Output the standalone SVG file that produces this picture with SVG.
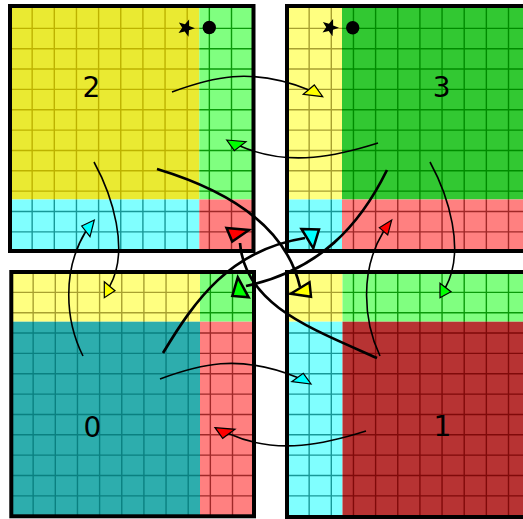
<svg xmlns="http://www.w3.org/2000/svg" width="523" height="519" viewBox="0 0 523 519">
<style>
.border{fill:none;stroke:#000;stroke-width:4}
.lbl{font-family:"DejaVu Sans","Liberation Sans",sans-serif;font-size:28px;text-anchor:middle;fill:#000}
.thin{fill:none;stroke:#000;stroke-width:1.6}
.thick{fill:none;stroke:#000;stroke-width:2.7}
.ah{stroke:#000;stroke-width:1.2}
.ahb{stroke:#000;stroke-width:2.5}
.g{fill:none;stroke-width:1.4}
.fy{fill:#ffff00}.fg{fill:#00ff00}.fc{fill:#00ffff}.fr{fill:#ff0000}
</style>
<defs>
<path id="grid2" d="M32.15,6V252M54.3,6V252M76.45,6V252M98.6,6V252M120.75,6V252M142.9,6V252M165.05,6V252M187.2,6V252M209.35,6V252M231.5,6V252M10,28.35H254M10,48.7H254M10,69.05H254M10,89.4H254M10,109.75H254M10,130.1H254M10,150.45H254M10,170.8H254M10,191.15H254M10,211.5H254M10,231.85H254"/>
<path id="grid3" d="M309.15,6V252M331.3,6V252M353.45,6V252M375.6,6V252M397.75,6V252M419.9,6V252M442.05,6V252M464.2,6V252M486.35,6V252M508.5,6V252M287,28.35H523M287,48.7H523M287,69.05H523M287,89.4H523M287,109.75H523M287,130.1H523M287,150.45H523M287,170.8H523M287,191.15H523M287,211.5H523M287,231.85H523"/>
<path id="grid0" d="M33.15,272V517M55.3,272V517M77.45,272V517M99.6,272V517M121.75,272V517M143.9,272V517M166.05,272V517M188.2,272V517M210.35,272V517M232.5,272V517M11,292.35H255M11,312.7H255M11,333.05H255M11,353.4H255M11,373.75H255M11,394.1H255M11,414.45H255M11,434.8H255M11,455.15H255M11,475.5H255M11,495.85H255"/>
<path id="grid1" d="M309.15,272V519M331.3,272V519M353.45,272V519M375.6,272V519M397.75,272V519M419.9,272V519M442.05,272V519M464.2,272V519M486.35,272V519M508.5,272V519M287,292.35H523M287,312.7H523M287,333.05H523M287,353.4H523M287,373.75H523M287,394.1H523M287,414.45H523M287,434.8H523M287,455.15H523M287,475.5H523M287,495.85H523"/>
<clipPath id="k2a"><rect x="10" y="6" width="189.3" height="193.5"/></clipPath>
<clipPath id="k2b"><rect x="199.3" y="6" width="54.7" height="193.5"/></clipPath>
<clipPath id="k2c"><rect x="10" y="199.5" width="189.3" height="52"/></clipPath>
<clipPath id="k2d"><rect x="199.3" y="199.5" width="54.7" height="52"/></clipPath>
<clipPath id="k3a"><rect x="287" y="6" width="55" height="193.5"/></clipPath>
<clipPath id="k3b"><rect x="342" y="6" width="181" height="193.5"/></clipPath>
<clipPath id="k3c"><rect x="287" y="199.5" width="55" height="52"/></clipPath>
<clipPath id="k3d"><rect x="342" y="199.5" width="181" height="52"/></clipPath>
<clipPath id="k0a"><rect x="11" y="272" width="189" height="49.7"/></clipPath>
<clipPath id="k0b"><rect x="200" y="272" width="54" height="49.7"/></clipPath>
<clipPath id="k0c"><rect x="11" y="321.7" width="189" height="194.6"/></clipPath>
<clipPath id="k0d"><rect x="200" y="321.7" width="54" height="194.6"/></clipPath>
<clipPath id="k1a"><rect x="287" y="272" width="55.5" height="49.7"/></clipPath>
<clipPath id="k1b"><rect x="342.5" y="272" width="181" height="49.7"/></clipPath>
<clipPath id="k1c"><rect x="287" y="321.7" width="55.5" height="197.3"/></clipPath>
<clipPath id="k1d"><rect x="342.5" y="321.7" width="181" height="197.3"/></clipPath>
<polygon id="star" points="0,-9 2.23,-3.07 8.56,-2.78 3.61,1.17 5.29,7.28 0,3.8 -5.29,7.28 -3.61,1.17 -8.56,-2.78 -2.23,-3.07"/>
</defs>
<rect width="523" height="519" fill="#fff"/>

<g id="panel2">
<rect x="10" y="6" width="189.3" height="193.5" fill="#eaea32"/>
<rect x="199.3" y="6" width="54.7" height="193.5" fill="#80ff80"/>
<rect x="10" y="199.5" width="189.3" height="52" fill="#80ffff"/>
<rect x="199.3" y="199.5" width="54.7" height="52" fill="#ff8080"/>
<use href="#grid2" class="g" stroke="#bdb200" clip-path="url(#k2a)"/>
<use href="#grid2" class="g" stroke="#0a9a0a" clip-path="url(#k2b)"/>
<use href="#grid2" class="g" stroke="#189898" clip-path="url(#k2c)"/>
<use href="#grid2" class="g" stroke="#a02828" clip-path="url(#k2d)"/>
<rect class="border" x="10" y="6" width="243.5" height="245"/>
<text class="lbl" x="91.5" y="96.7">2</text>
<use href="#star" transform="translate(186,28) rotate(20)"/>
<circle cx="209.3" cy="27.5" r="6.7"/>
</g>

<g id="panel3">
<rect x="287" y="6" width="55" height="193.5" fill="#ffff80"/>
<rect x="342" y="6" width="181" height="193.5" fill="#32c832"/>
<rect x="287" y="199.5" width="55" height="52" fill="#80ffff"/>
<rect x="342" y="199.5" width="181" height="52" fill="#ff8080"/>
<use href="#grid3" class="g" stroke="#a8a030" clip-path="url(#k3a)"/>
<use href="#grid3" class="g" stroke="#008c00" clip-path="url(#k3b)"/>
<use href="#grid3" class="g" stroke="#189898" clip-path="url(#k3c)"/>
<use href="#grid3" class="g" stroke="#a02828" clip-path="url(#k3d)"/>
<rect class="border" x="287" y="6" width="260" height="245"/>
<text class="lbl" x="441.7" y="96.7">3</text>
<use href="#star" transform="translate(330,27.5) rotate(20)"/>
<circle cx="352.7" cy="27.7" r="6.7"/>
</g>

<g id="panel0">
<rect x="11" y="272" width="189" height="49.7" fill="#ffff80"/>
<rect x="200" y="272" width="54" height="49.7" fill="#80ff80"/>
<rect x="11" y="321.7" width="189" height="194.6" fill="#2dadad"/>
<rect x="200" y="321.7" width="54" height="194.6" fill="#ff8080"/>
<use href="#grid0" class="g" stroke="#a8a030" clip-path="url(#k0a)"/>
<use href="#grid0" class="g" stroke="#0a9a0a" clip-path="url(#k0b)"/>
<use href="#grid0" class="g" stroke="#0a8080" clip-path="url(#k0c)"/>
<use href="#grid0" class="g" stroke="#a02828" clip-path="url(#k0d)"/>
<rect class="border" x="11.3" y="272" width="242.7" height="244.3"/>
<text class="lbl" x="92.5" y="436.7">0</text>
</g>

<g id="panel1">
<rect x="287" y="272" width="55.5" height="49.7" fill="#ffff80"/>
<rect x="342.5" y="272" width="181" height="49.7" fill="#80ff80"/>
<rect x="287" y="321.7" width="55.5" height="197.3" fill="#80ffff"/>
<rect x="342.5" y="321.7" width="181" height="197.3" fill="#b73333"/>
<use href="#grid1" class="g" stroke="#a8a030" clip-path="url(#k1a)"/>
<use href="#grid1" class="g" stroke="#0a9a0a" clip-path="url(#k1b)"/>
<use href="#grid1" class="g" stroke="#189898" clip-path="url(#k1c)"/>
<use href="#grid1" class="g" stroke="#800a0a" clip-path="url(#k1d)"/>
<rect class="border" x="287" y="272" width="260" height="245"/>
<text class="lbl" x="442.5" y="435.7">1</text>
</g>

<g id="connectors">
<path class="thin" d="M172,92 C210,78 250,66 309,90"/>
<path class="thin" d="M378,143 C340,155 290,168 240,146"/>
<path class="thin" d="M430,162 C448,195 466,250 445.5,287.5"/>
<path class="thin" d="M94,162 C112,195 130,250 109.7,286.2"/>
<path class="thin" d="M83,356 C65,320 62,270 86,231"/>
<path class="thin" d="M380,356 C363,320 360,270 383.5,231.5"/>
<path class="thin" d="M160,379 C198,365 238,353 297.5,377.5"/>
<path class="thin" d="M366,431 C328,443 278,456 229,433.8"/>
<path class="thick" d="M157,169 C220,188 285,222 300,287"/>
<path class="thick" d="M387,170 C360,225 320,270 246,286"/>
<path class="thick" d="M163,353 C195,300 230,250 305,238"/>
<path class="thick" d="M377,358 C310,328 245,305 240,243"/>
<polygon class="ah fy" points="303.3,94.3 314.3,85 322.7,96.7"/>
<polygon class="ah fg" points="226.7,140 246,141.7 234.3,150.7"/>
<polygon class="ah fg" points="440,283.3 451,291.7 440,297.7"/>
<polygon class="ah fy" points="104.3,281.7 115,290.7 104.3,297.7"/>
<polygon class="ah fc" points="81.7,226 94.3,220 90,236.7"/>
<polygon class="ah fr" points="379.3,227.7 391.7,220 387.7,235"/>
<polygon class="ah fc" points="291.7,381.7 303.3,373.3 311,384"/>
<polygon class="ah fr" points="215,427.7 235,429.3 222.7,438.3"/>
<polygon class="ahb fr" points="226.5,228 249,230 232.2,241.5"/>
<polygon class="ahb fc" points="301.5,229 319,229.5 313.3,248.3"/>
<polygon class="ahb fg" points="232.3,296 237.8,277.3 248.7,297.3"/>
<polygon class="ahb fy" points="290.7,293.7 309.5,282.3 311,296.7"/>
</g>
</svg>
